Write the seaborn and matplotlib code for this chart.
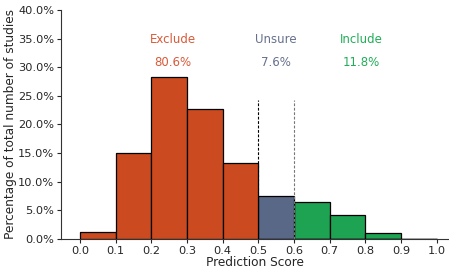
import numpy as np
import pandas as pd
import matplotlib
matplotlib.use("Agg")
import matplotlib.pyplot as plt
import seaborn as sns
from matplotlib.ticker import PercentFormatter

# histogram bins (prediction score) and share of studies in each bin (%)
bin_edges = [0.0, 0.1, 0.2, 0.3, 0.4, 0.5, 0.6, 0.7, 0.8, 0.9, 1.0]
percent = [1.3, 15.1, 28.3, 22.7, 13.2, 7.6, 6.5, 4.2, 1.1, 0.0]
decision = ["Exclude", "Exclude", "Exclude", "Exclude", "Exclude",
            "Unsure", "Include", "Include", "Include", "Include"]

groups = ["Exclude", "Unsure", "Include"]
group_share = ["80.6%", "7.6%", "11.8%"]
group_x = [0.26, 0.55, 0.79]
bar_colors = {"Exclude": "#cc4a1f", "Unsure": "#5a6888", "Include": "#1ea352"}
text_colors = {"Exclude": "#d95a38", "Unsure": "#66708e", "Include": "#22ad58"}
thresholds = [0.5, 0.6]

df = pd.DataFrame({
    "score": [(a + b) / 2 for a, b in zip(bin_edges[:-1], bin_edges[1:])],
    "percent": percent,
    "decision": decision,
})
df = df[df["percent"] > 0]  # empty bin draws nothing

sns.set_style("ticks")
plt.rcParams["font.family"] = ["DejaVu Sans"]

fig = plt.figure(figsize=(4.49, 2.68), dpi=100)
ax = fig.add_axes([0.136, 0.108, 0.864, 0.855])

sns.histplot(data=df, x="score", weights="percent", bins=bin_edges,
             hue="decision", hue_order=groups, palette=bar_colors,
             multiple="layer", alpha=1, edgecolor="black", linewidth=0.9,
             legend=False, ax=ax, zorder=2)

# threshold lines
ax.vlines(thresholds[0], 0, 24.3, colors="black", linestyles=(0, (2.5, 1.5)), linewidth=0.8, zorder=1)
ax.vlines(thresholds[1], 0, 24.3, colors="#777777", linestyles=(0, (2.5, 1.5)), linewidth=0.8, zorder=3)

for g, s, gx in zip(groups, group_share, group_x):
    ax.text(gx, 34.8, g, color=text_colors[g], ha="center", va="center", fontsize=8.5)
    ax.text(gx, 30.8, s, color=text_colors[g], ha="center", va="center", fontsize=8.5)

ax.set_xlim(-0.053, 1.035)
ax.set_ylim(0, 40)
ax.set_xticks(bin_edges)
ax.set_xticklabels([f"{v:.1f}" for v in bin_edges])
ax.set_yticks(np.arange(0, 41, 5))
ax.yaxis.set_major_formatter(PercentFormatter(decimals=1))
ax.tick_params(labelsize=8.2, length=3, width=0.8, pad=2)
ax.set_xlabel("Prediction Score", fontsize=8.7, labelpad=0)
ax.set_ylabel("Percentage of total number of studies", fontsize=8.7, labelpad=1)
for sp in ["top", "right"]:
    ax.spines[sp].set_visible(False)
for sp in ["left", "bottom"]:
    ax.spines[sp].set_linewidth(0.8)
    ax.spines[sp].set_color("#333333")

fig.savefig("out.png", dpi=100)
